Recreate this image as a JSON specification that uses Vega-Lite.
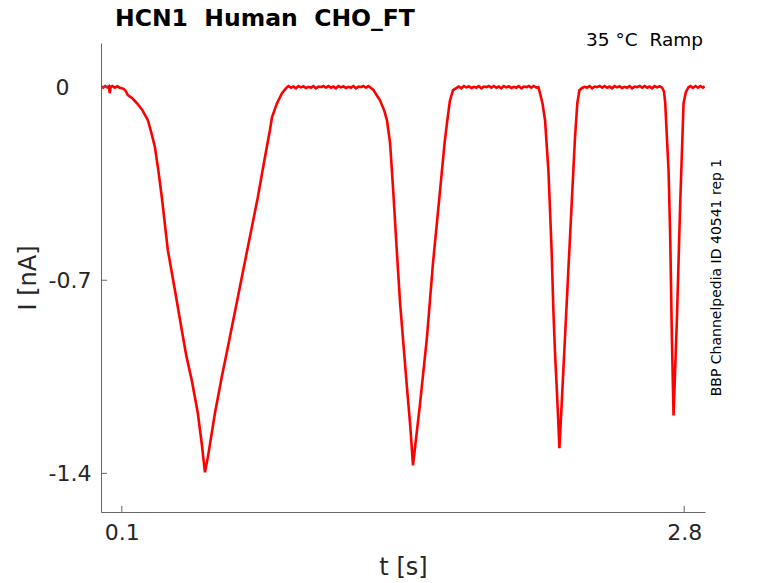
{
  "$schema": "https://vega.github.io/schema/vega-lite/v6.json",
  "width": 604,
  "height": 469,
  "autosize": {"type": "none"},
  "padding": {"left": 101, "top": 43, "right": 73, "bottom": 71},
  "background": "white",
  "config": {"view": {"stroke": null}, "font": "DejaVu Sans"},
  "title": {
    "text": "HCN1 \u00a0Human \u00a0CHO_FT",
    "anchor": "start",
    "frame": "group",
    "dx": 14,
    "fontSize": 23.5,
    "fontWeight": "bold",
    "color": "#000000",
    "baseline": "alphabetic",
    "offset": -18
  },
  "layer": [
    {
      "data": {
        "values": [
          {"t": 0.000, "I": 0.003}, {"t": 0.010, "I": -0.002}, {"t": 0.020, "I": 0.004},
          {"t": 0.030, "I": -0.001}, {"t": 0.038, "I": 0.003}, {"t": 0.042, "I": -0.022},
          {"t": 0.046, "I": 0.001}, {"t": 0.055, "I": 0.004}, {"t": 0.066, "I": -0.002},
          {"t": 0.078, "I": 0.003}, {"t": 0.090, "I": -0.002}, {"t": 0.100, "I": -0.004},
          {"t": 0.108, "I": -0.006}, {"t": 0.117, "I": -0.012}, {"t": 0.129, "I": -0.029},
          {"t": 0.150, "I": -0.040}, {"t": 0.165, "I": -0.052}, {"t": 0.177, "I": -0.062},
          {"t": 0.200, "I": -0.085}, {"t": 0.225, "I": -0.120}, {"t": 0.240, "I": -0.160},
          {"t": 0.259, "I": -0.218}, {"t": 0.275, "I": -0.300}, {"t": 0.292, "I": -0.399},
          {"t": 0.321, "I": -0.591}, {"t": 0.355, "I": -0.736}, {"t": 0.388, "I": -0.881},
          {"t": 0.410, "I": -0.975}, {"t": 0.436, "I": -1.063}, {"t": 0.465, "I": -1.182},
          {"t": 0.485, "I": -1.300}, {"t": 0.499, "I": -1.396}, {"t": 0.513, "I": -1.342},
          {"t": 0.547, "I": -1.182}, {"t": 0.580, "I": -1.050}, {"t": 0.609, "I": -0.943},
          {"t": 0.657, "I": -0.762}, {"t": 0.705, "I": -0.580}, {"t": 0.753, "I": -0.399},
          {"t": 0.787, "I": -0.254}, {"t": 0.811, "I": -0.156}, {"t": 0.821, "I": -0.109},
          {"t": 0.845, "I": -0.058}, {"t": 0.869, "I": -0.022}, {"t": 0.893, "I": 0.000},
          {"t": 0.900, "I": 0.004}, {"t": 0.912, "I": -0.002}, {"t": 0.924, "I": 0.002},
          {"t": 0.936, "I": -0.004}, {"t": 0.948, "I": 0.004}, {"t": 0.960, "I": -0.001},
          {"t": 0.972, "I": 0.003}, {"t": 0.984, "I": -0.003}, {"t": 0.996, "I": 0.001},
          {"t": 1.008, "I": -0.002}, {"t": 1.020, "I": 0.004}, {"t": 1.032, "I": -0.004},
          {"t": 1.044, "I": 0.002}, {"t": 1.056, "I": 0.000}, {"t": 1.068, "I": 0.004},
          {"t": 1.080, "I": -0.002}, {"t": 1.092, "I": 0.004}, {"t": 1.104, "I": -0.002},
          {"t": 1.116, "I": 0.002}, {"t": 1.128, "I": -0.004}, {"t": 1.140, "I": 0.004},
          {"t": 1.152, "I": -0.001}, {"t": 1.164, "I": 0.003}, {"t": 1.176, "I": -0.003},
          {"t": 1.188, "I": 0.001}, {"t": 1.200, "I": -0.002}, {"t": 1.212, "I": 0.004},
          {"t": 1.224, "I": -0.004}, {"t": 1.236, "I": 0.002}, {"t": 1.248, "I": 0.000},
          {"t": 1.260, "I": 0.004}, {"t": 1.272, "I": -0.002}, {"t": 1.284, "I": 0.004},
          {"t": 1.296, "I": -0.003}, {"t": 1.308, "I": -0.010}, {"t": 1.320, "I": -0.025},
          {"t": 1.339, "I": -0.047}, {"t": 1.360, "I": -0.085}, {"t": 1.373, "I": -0.120},
          {"t": 1.388, "I": -0.203}, {"t": 1.402, "I": -0.363}, {"t": 1.421, "I": -0.602},
          {"t": 1.436, "I": -0.783}, {"t": 1.469, "I": -1.088}, {"t": 1.485, "I": -1.230},
          {"t": 1.498, "I": -1.371}, {"t": 1.532, "I": -1.146}, {"t": 1.565, "I": -0.907},
          {"t": 1.594, "I": -0.638}, {"t": 1.628, "I": -0.374}, {"t": 1.650, "I": -0.200},
          {"t": 1.661, "I": -0.131}, {"t": 1.675, "I": -0.050}, {"t": 1.690, "I": -0.011},
          {"t": 1.718, "I": 0.002},
          {"t": 1.730, "I": -0.004}, {"t": 1.742, "I": 0.004}, {"t": 1.754, "I": -0.001},
          {"t": 1.766, "I": 0.003}, {"t": 1.778, "I": -0.003}, {"t": 1.790, "I": 0.001},
          {"t": 1.802, "I": -0.002}, {"t": 1.814, "I": 0.004}, {"t": 1.826, "I": -0.004},
          {"t": 1.838, "I": 0.002}, {"t": 1.850, "I": 0.000}, {"t": 1.862, "I": 0.004},
          {"t": 1.874, "I": -0.002}, {"t": 1.886, "I": 0.004}, {"t": 1.898, "I": -0.002},
          {"t": 1.910, "I": 0.002}, {"t": 1.922, "I": -0.004}, {"t": 1.934, "I": 0.004},
          {"t": 1.946, "I": -0.001}, {"t": 1.958, "I": 0.003}, {"t": 1.970, "I": -0.003},
          {"t": 1.982, "I": 0.001}, {"t": 1.994, "I": -0.002}, {"t": 2.006, "I": 0.004},
          {"t": 2.018, "I": -0.004}, {"t": 2.030, "I": 0.002}, {"t": 2.042, "I": 0.000},
          {"t": 2.054, "I": 0.004}, {"t": 2.066, "I": -0.002}, {"t": 2.078, "I": 0.004},
          {"t": 2.090, "I": -0.002}, {"t": 2.100, "I": 0.000}, {"t": 2.108, "I": -0.022},
          {"t": 2.120, "I": -0.060}, {"t": 2.132, "I": -0.120}, {"t": 2.148, "I": -0.301},
          {"t": 2.156, "I": -0.446}, {"t": 2.164, "I": -0.602}, {"t": 2.172, "I": -0.809},
          {"t": 2.180, "I": -0.965}, {"t": 2.188, "I": -1.088}, {"t": 2.196, "I": -1.219},
          {"t": 2.201, "I": -1.309}, {"t": 2.212, "I": -1.146}, {"t": 2.236, "I": -0.783},
          {"t": 2.260, "I": -0.421}, {"t": 2.276, "I": -0.181}, {"t": 2.287, "I": -0.058},
          {"t": 2.297, "I": -0.011},
          {"t": 2.310, "I": -0.003}, {"t": 2.322, "I": 0.001}, {"t": 2.334, "I": -0.002},
          {"t": 2.346, "I": 0.004}, {"t": 2.358, "I": -0.004}, {"t": 2.370, "I": 0.002},
          {"t": 2.382, "I": 0.000}, {"t": 2.394, "I": 0.004}, {"t": 2.406, "I": -0.002},
          {"t": 2.418, "I": 0.004}, {"t": 2.430, "I": -0.002}, {"t": 2.442, "I": 0.002},
          {"t": 2.454, "I": -0.004}, {"t": 2.466, "I": 0.004}, {"t": 2.478, "I": -0.001},
          {"t": 2.490, "I": 0.003}, {"t": 2.502, "I": -0.003}, {"t": 2.514, "I": 0.001},
          {"t": 2.526, "I": -0.002}, {"t": 2.538, "I": 0.004}, {"t": 2.550, "I": -0.004},
          {"t": 2.562, "I": 0.002}, {"t": 2.574, "I": 0.000}, {"t": 2.586, "I": 0.004},
          {"t": 2.598, "I": -0.002}, {"t": 2.610, "I": 0.004}, {"t": 2.622, "I": -0.002},
          {"t": 2.634, "I": 0.002}, {"t": 2.646, "I": -0.004}, {"t": 2.658, "I": 0.004},
          {"t": 2.670, "I": -0.001}, {"t": 2.682, "I": 0.003}, {"t": 2.694, "I": -0.002},
          {"t": 2.703, "I": -0.015}, {"t": 2.709, "I": -0.058}, {"t": 2.717, "I": -0.181},
          {"t": 2.725, "I": -0.301}, {"t": 2.733, "I": -0.544}, {"t": 2.741, "I": -0.907},
          {"t": 2.749, "I": -1.190}, {"t": 2.765, "I": -0.845}, {"t": 2.781, "I": -0.421},
          {"t": 2.797, "I": -0.058}, {"t": 2.808, "I": -0.018}, {"t": 2.821, "I": 0.000},
          {"t": 2.830, "I": 0.004}, {"t": 2.842, "I": -0.003}, {"t": 2.854, "I": 0.004},
          {"t": 2.866, "I": -0.002}, {"t": 2.878, "I": 0.004}, {"t": 2.890, "I": -0.002},
          {"t": 2.898, "I": 0.003}
        ]
      },
      "mark": {"type": "line", "color": "#ff0000", "strokeWidth": 2.6, "clip": true},
      "encoding": {
        "x": {
          "field": "t",
          "type": "quantitative",
          "title": "t [s]",
          "scale": {"domain": [0, 2.9], "nice": false, "zero": false},
          "axis": {
            "values": [0.1, 2.8],
            "title": "t [s]",
            "grid": false,
            "ticks": false,
            "tickSize": 0,
            "labelFontSize": 22,
            "titleFontSize": 24,
            "titleFontWeight": "normal",
            "labelColor": "#262626",
            "titleColor": "#262626",
            "domainColor": "#666666",
            "labelPadding": 10,
            "titlePadding": 12,
            "labelFlush": false,
            "labelOverlap": false
          }
        },
        "y": {
          "field": "I",
          "type": "quantitative",
          "title": "I [nA]",
          "scale": {"domain": [-1.54, 0.16], "nice": false, "zero": false},
          "axis": {
            "values": [-1.4, -0.7, 0],
            "labelExpr": "toString(datum.value)",
            "title": "I [nA]",
            "grid": false,
            "ticks": false,
            "tickSize": 0,
            "labelFontSize": 22,
            "titleFontSize": 24,
            "titleFontWeight": "normal",
            "labelColor": "#262626",
            "titleColor": "#262626",
            "domainColor": "#666666",
            "labelPadding": {"condition": {"test": "datum.value == 0", "value": 32}, "value": 10},
            "titlePadding": 8,
            "labelFlush": false,
            "labelOverlap": false
          }
        }
      }
    },
    {
      "data": {"values": [{"tick": 0.1}, {"tick": 2.8}]},
      "mark": {"type": "rule", "color": "#666666", "strokeWidth": 1},
      "encoding": {
        "x": {"field": "tick", "type": "quantitative", "title": "t [s]"},
        "y": {"datum": -1.54},
        "y2": {"datum": -1.518}
      }
    },
    {
      "data": {"values": [{"tick": -1.4}, {"tick": -0.7}, {"tick": 0}]},
      "mark": {"type": "rule", "color": "#666666", "strokeWidth": 1},
      "encoding": {
        "y": {"field": "tick", "type": "quantitative", "title": "I [nA]"},
        "x": {"datum": 0},
        "x2": {"datum": 0.029}
      }
    },
    {
      "data": {"values": [{"label": "35 °C \u00a0Ramp"}]},
      "mark": {"type": "text", "align": "right", "baseline": "alphabetic", "fontSize": 18.5, "dx": -2, "dy": 3, "color": "#000000"},
      "encoding": {
        "x": {"datum": 2.9},
        "y": {"datum": 0.16},
        "text": {"field": "label"}
      }
    },
    {
      "data": {"values": [{"label": "BBP Channelpedia ID 40541 rep 1"}]},
      "mark": {"type": "text", "angle": 270, "align": "center", "baseline": "middle", "fontSize": 14, "dx": 0, "dy": 12, "color": "#000000"},
      "encoding": {
        "x": {"datum": 2.9},
        "y": {"datum": -0.69},
        "text": {"field": "label"}
      }
    }
  ]
}
